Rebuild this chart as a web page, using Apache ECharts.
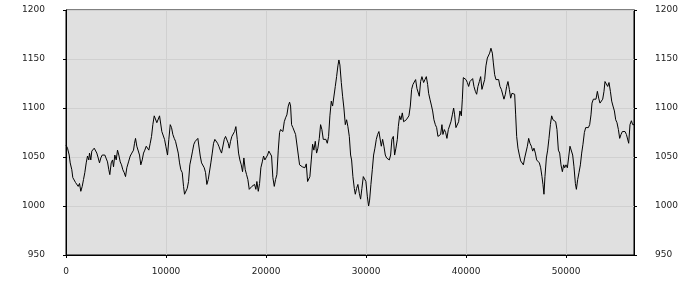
<!DOCTYPE html>
<html>
<head>
<meta charset="utf-8">
<script src="https://cdn.jsdelivr.net/npm/echarts@6/dist/echarts.min.js"></script>
<style>
html,body{margin:0;padding:0;background:#fff;}
#c{width:700px;height:300px;}
</style>
</head>
<body>
<div id="c"></div>
<script>
// x positions of the samples
var xs = [
0,150,320,420,580,680,820,950,1080,1220,1350,1480,1620,1750,1880,2020,2150,2280,2350,2480,2580,2680,2820,2950,3080,3220,3350,3480,3620,3750,3880,4020,4150,4280,4380,4520,4650,4750,4880,5020,5150,5280,5420,5550,5680,5820,5950,6080,6250,6420,6580,6750,6850,6950,7080,7220,
7350,7480,7620,7750,7880,8020,8150,8280,8420,8550,8680,8820,8950,9080,9220,9350,9450,9580,9720,9850,9980,10150,10280,10420,10550,10680,10820,10950,11080,11220,11350,11480,11620,11750,11850,11980,12120,12250,12380,12520,12650,12780,12920,13050,13180,13280,13420,13550,13680,13820,13950,14080,14220,14350,
14480,14620,14750,14880,15020,15150,15280,15420,15550,15680,15820,15950,16080,16220,16320,16450,16580,16720,16850,16980,17120,17250,17380,17520,17650,17780,17920,18050,18180,18320,18450,18580,18720,18850,18980,19080,19220,19350,19480,19620,19750,19880,20020,20150,20280,20420,20550,20680,20820,20950,21080,21220,21350,21450,
21550,21680,21820,21950,22080,22220,22350,22450,22550,22680,22820,22950,23080,23220,23350,23480,23620,23750,23880,24020,24150,24250,24380,24520,24650,24780,24920,25050,25180,25320,25450,25580,25720,25850,25980,26120,26250,26380,26520,26650,26780,26920,27050,27180,27280,27380,27520,27650,27780,27920,28050,28180,28320,28450,28550,
28680,28820,28920,29050,29180,29320,29450,29580,29720,29850,29980,30120,30250,30350,30480,30620,30750,30880,31020,31150,31280,31380,31520,31650,31780,31920,32050,32180,32320,32450,32580,32720,32850,32980,33120,33220,33350,33480,33620,33750,33880,34020,34150,34280,34420,34550,34680,34820,34950,35080,35220,35320,35450,35580,
35750,35880,36020,36150,36250,36380,36520,36650,36780,36920,37050,37180,37320,37450,37580,37680,37820,37950,38080,38220,38350,38480,38620,38750,38850,38980,39120,39250,39380,39520,39620,39720,39850,39980,40120,40250,40380,40520,40650,40780,40920,41050,41180,41320,41450,41580,41720,41850,41980,42120,42250,42350,42480,42620,42720,
42850,42980,43120,43250,43380,43520,43650,43780,43920,44050,44180,44320,44450,44580,44720,44850,44950,45050,45180,45320,45450,45580,45720,45850,45980,46120,46250,46380,46520,46650,46780,46920,47050,47180,47320,47450,47580,47680,47780,47880,48020,48150,48280,48420,48550,48680,48820,48950,49080,49220,49350,49480,49620,49750,
49850,49980,50120,50250,50380,50520,50650,50780,50920,51020,51150,51280,51420,51550,51680,51820,51950,52080,52220,52350,52480,52580,52720,52850,52980,53120,53250,53380,53520,53650,53780,53880,54020,54150,54280,54420,54550,54680,54820,54950,55080,55220,55350,55480,55620,55750,55880,56020,56150,56250,56380,56520,56650,56780
];
// series values
var ys = [
1062,1059,1052,1044,1037,1029,1027,1024,1023,1020,1023,1015,1020,1027,1034,1044,1051,1047,1054,1047,1056,1057,1059,1061,1054,1049,1044,1049,1052,1054,1052,1051,1045,1037,1032,1044,1047,1040,1052,1047,1057,1052,1045,1042,1037,1034,1030,1039,1045,1051,1054,1057,1064,1069,1061,1062,
1052,1042,1047,1054,1057,1061,1059,1057,1064,1071,1083,1092,1090,1085,1086,1092,1090,1076,1075,1068,1061,1052,1068,1083,1080,1073,1069,1066,1064,1054,1044,1037,1034,1020,1012,1013,1018,1025,1042,1049,1056,1063,1066,1068,1069,1071,1051,1044,1046,1039,1034,1022,1027,1029,
1044,1054,1064,1068,1070,1064,1061,1057,1054,1052,1068,1071,1073,1064,1059,1066,1071,1073,1076,1081,1068,1054,1047,1042,1035,1049,1037,1032,1027,1017,1017,1020,1018,1022,1017,1025,1015,1023,1039,1045,1051,1047,1049,1052,1056,1054,1051,1029,1020,1027,1032,1057,1075,1078,
1080,1076,1086,1090,1093,1102,1106,1102,1083,1080,1078,1073,1075,1052,1042,1042,1040,1042,1039,1043,1025,1023,1030,1047,1063,1057,1066,1054,1059,1069,1083,1078,1068,1066,1068,1064,1071,1092,1107,1102,1103,1122,1132,1143,1149,1144,1126,1112,1100,1083,1088,1081,1071,1052,1047,
1030,1018,1012,1018,1022,1013,1007,1018,1030,1032,1025,1010,1000,1006,1022,1037,1052,1059,1068,1073,1076,1078,1061,1068,1061,1052,1049,1047,1047,1052,1068,1071,1052,1059,1068,1081,1092,1088,1095,1086,1088,1088,1089,1092,1102,1119,1124,1126,1129,1120,1119,1112,1127,1132,
1126,1129,1132,1124,1115,1109,1103,1097,1088,1083,1080,1071,1071,1073,1083,1073,1078,1075,1069,1078,1080,1086,1093,1100,1093,1080,1081,1086,1097,1092,1109,1131,1132,1129,1126,1122,1127,1129,1130,1122,1117,1114,1122,1127,1132,1119,1117,1129,1143,1151,1153,1156,1161,1156,1146,
1134,1129,1127,1129,1122,1119,1120,1109,1114,1122,1127,1119,1110,1115,1114,1114,1093,1071,1059,1052,1046,1044,1042,1049,1051,1061,1069,1064,1061,1056,1059,1054,1047,1049,1044,1039,1030,1022,1012,1030,1049,1057,1069,1083,1092,1088,1088,1086,1078,1057,1054,1042,1035,1042,
1039,1042,1039,1040,1061,1061,1052,1040,1023,1017,1027,1034,1042,1054,1063,1075,1080,1078,1080,1083,1093,1105,1109,1107,1109,1117,1110,1105,1107,1109,1117,1127,1127,1122,1126,1117,1107,1102,1097,1088,1085,1078,1069,1073,1076,1078,1076,1073,1071,1064,1083,1087,1083,1083
];
var yTicks = { min: 950, max: 1200, step: 50 };
var xTickValues = [0, 10000, 20000, 30000, 40000, 50000];

var data = xs.map(function (x, i) { return [x, ys[i]]; });
var font = { fontFamily: 'DejaVu Sans', fontSize: 9, color: '#222', formatter: function (v) { return String(v); } };

function yAxis(pos, split) {
  return {
    type: 'value', position: pos,
    min: yTicks.min, max: yTicks.max, interval: yTicks.step,
    axisLine: { show: true, lineStyle: { color: '#000', width: 1 } },
    axisTick: { show: true, inside: false, length: 3, lineStyle: { color: '#000' } },
    axisLabel: Object.assign({ margin: 21 }, font),
    splitLine: { show: split, lineStyle: { color: '#d0d0d0', width: 1 } }
  };
}

var chart = echarts.init(document.getElementById('c'), null, { renderer: 'canvas' });
chart.setOption({
  animation: false,
  backgroundColor: '#ffffff',
  grid: { left: 66, right: 66, top: 10, bottom: 45, show: true, backgroundColor: '#e0e0e0', borderColor: '#000', borderWidth: 1 },
  xAxis: {
    type: 'value', min: 0, max: xs[xs.length - 1],
    axisLine: { show: true, lineStyle: { color: '#000', width: 1 } },
    axisTick: { show: true, length: 3, lineStyle: { color: '#000' }, customValues: xTickValues },
    axisLabel: Object.assign({ margin: 12, customValues: xTickValues }, font),
    splitLine: { show: true, lineStyle: { color: '#d0d0d0', width: 1 } }
  },
  yAxis: [yAxis('left', true), yAxis('right', false)],
  series: [{
    type: 'line', data: data, showSymbol: false, symbol: 'none',
    lineStyle: { color: '#000', width: 1 }, smooth: false, silent: true
  }]
});
</script>
</body>
</html>
